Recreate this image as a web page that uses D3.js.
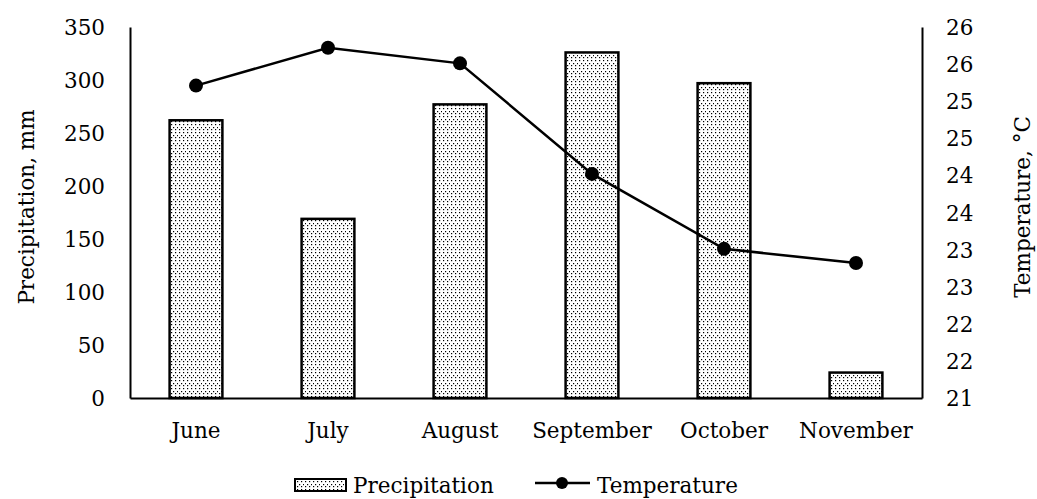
<!DOCTYPE html>
<html>
<head>
<meta charset="utf-8">
<script src="https://cdn.jsdelivr.net/npm/d3@7"></script>
<style>
  body { margin: 0; background: #fff; }
  svg text { font-family: "DejaVu Serif", "Liberation Serif", serif; font-size: 21.5px; fill: #000; }
</style>
</head>
<body>
<div id="chart"></div>
<script>
// data
const months = ['June', 'July', 'August', 'September', 'October', 'November'];
const precipitation = [262, 169, 277, 326, 297, 24];
const temperature = [25.21, 25.72, 25.51, 24.02, 23.01, 22.82];
const precipTicks = [0, 50, 100, 150, 200, 250, 300, 350];
const tempTicks = [21, 21.5, 22, 22.5, 23, 23.5, 24, 24.5, 25, 25.5, 26];

// dimensions
const WIDTH = 1037;
const HEIGHT = 499;
const MARGIN_TOP = 27;
const MARGIN_BOTTOM = 101;
const MARGIN_LEFT = 130;
const MARGIN_RIGHT = 115;
const width = WIDTH - MARGIN_LEFT - MARGIN_RIGHT;
const height = HEIGHT - MARGIN_TOP - MARGIN_BOTTOM;

const $svg = d3.select('#chart').append('svg')
  .attr('width', WIDTH)
  .attr('height', HEIGHT);

// dotted fill like the excel pattern
const $pattern = $svg.append('defs').append('pattern')
  .attr('id', 'dots')
  .attr('patternUnits', 'userSpaceOnUse')
  .attr('width', 8)
  .attr('height', 8);
$pattern.append('rect').attr('width', 8).attr('height', 8).attr('fill', '#fff');
[[1, 1], [5, 1], [3, 4], [7, 4], [1, 6], [5, 6]].forEach(p => {
  $pattern.append('rect')
    .attr('x', p[0]).attr('y', p[1])
    .attr('width', 1.2).attr('height', 1.2)
    .attr('fill', '#000');
});

// scales
const xScale = d3.scaleBand().domain(months).range([0, width]);
const yScale = d3.scaleLinear().domain([0, 350]).range([height, 0]);
const tScale = d3.scaleLinear().domain([21, 26]).range([height, 0]);

const $vis = $svg.append('g')
  .attr('transform', `translate(${MARGIN_LEFT}, ${MARGIN_TOP})`);

// axes
const $yAxis = $vis.append('g')
  .call(d3.axisLeft(yScale).tickValues(precipTicks).tickSize(0).tickPadding(25));
const $tAxis = $vis.append('g')
  .attr('transform', `translate(${width},0)`)
  .call(d3.axisRight(tScale).tickValues(tempTicks).tickSize(0).tickPadding(24)
    .tickFormat(d => Math.round(d)));
const $xAxis = $vis.append('g')
  .attr('transform', `translate(0,${height})`)
  .call(d3.axisBottom(xScale).tickSize(0).tickPadding(25));

[$yAxis, $tAxis, $xAxis].forEach($a => {
  $a.attr('font-family', null).attr('font-size', null);
  $a.select('.domain').attr('stroke', '#000').attr('stroke-width', 2);
});
$yAxis.selectAll('text').attr('dy', '0.35em');
$tAxis.selectAll('text').attr('dy', '0.35em');

// bars
const barW = xScale.bandwidth() * 0.4;
$vis.append('g').selectAll('rect')
  .data(precipitation)
  .join('rect')
  .attr('x', (d, i) => xScale(months[i]) + (xScale.bandwidth() - barW) / 2)
  .attr('y', d => yScale(d))
  .attr('width', barW)
  .attr('height', d => height - yScale(d))
  .attr('fill', 'url(#dots)')
  .attr('stroke', '#000')
  .attr('stroke-width', 2.5);

// temperature line
const cx = (d, i) => xScale(months[i]) + xScale.bandwidth() / 2;
$vis.append('path')
  .datum(temperature)
  .attr('d', d3.line().x(cx).y(d => tScale(d)))
  .attr('fill', 'none')
  .attr('stroke', '#000')
  .attr('stroke-width', 2.5);
$vis.append('g').selectAll('circle')
  .data(temperature)
  .join('circle')
  .attr('cx', cx)
  .attr('cy', d => tScale(d))
  .attr('r', 7)
  .attr('fill', '#000');

// axis titles
$svg.append('text')
  .attr('transform', 'translate(26,207) rotate(-90)')
  .attr('text-anchor', 'middle')
  .attr('dy', '0.35em')
  .text('Precipitation, mm');
$svg.append('text')
  .attr('transform', 'translate(1022,207) rotate(-90)')
  .attr('text-anchor', 'middle')
  .attr('dy', '0.35em')
  .text('Temperature, °C');

// legend
const $legend = $svg.append('g');
$legend.append('rect')
  .attr('x', 295).attr('y', 479)
  .attr('width', 51).attr('height', 12)
  .attr('fill', 'url(#dots)')
  .attr('stroke', '#000')
  .attr('stroke-width', 2);
$legend.append('text')
  .attr('x', 353).attr('y', 493)
  .text('Precipitation');
$legend.append('line')
  .attr('x1', 535).attr('x2', 590)
  .attr('y1', 483).attr('y2', 483)
  .attr('stroke', '#000').attr('stroke-width', 2.5);
$legend.append('circle')
  .attr('cx', 562).attr('cy', 483).attr('r', 6).attr('fill', '#000');
$legend.append('text')
  .attr('x', 597).attr('y', 493)
  .text('Temperature');
</script>
</body>
</html>
